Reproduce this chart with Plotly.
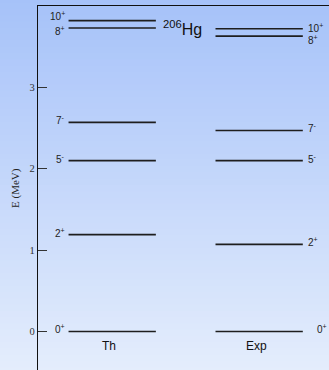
import plotly.graph_objects as go

# ---- data ----
th_spins = ["0<sup>+</sup>", "2<sup>+</sup>", "5<sup>-</sup>", "7<sup>-</sup>", "8<sup>+</sup>", "10<sup>+</sup>"]
th_energy = [0.0, 1.19, 2.10, 2.57, 3.73, 3.82]
exp_spins = ["0<sup>+</sup>", "2<sup>+</sup>", "5<sup>-</sup>", "7<sup>-</sup>", "8<sup>+</sup>", "10<sup>+</sup>"]
exp_energy = [0.0, 1.07, 2.10, 2.47, 3.63, 3.72]
y_ticks = [0, 1, 2, 3]
columns = ["Th", "Exp"]

# ---- layout helpers ----
W, H = 329, 370
ML, MT = 38, 6
centers = [2.55, 7.6]
hw = 1.5
line_color = "#1e1e1e"

fig = go.Figure()

def level_trace(center, energies):
    xs, ys = [], []
    for e in energies:
        xs += [center - hw, center + hw, None]
        ys += [e, e, None]
    return go.Scatter(x=xs, y=ys, mode="lines", line=dict(color=line_color, width=1.6),
                      hoverinfo="skip", showlegend=False)

fig.add_trace(level_trace(centers[0], th_energy))
fig.add_trace(level_trace(centers[1], exp_energy))

ann = []
lab_font = dict(family="Liberation Sans, Arial, sans-serif", size=10, color="#222")
# Th labels (left of lines)
th_shift = {"10<sup>+</sup>": 3, "8<sup>+</sup>": -5}
for s, e in zip(th_spins, th_energy):
    ann.append(dict(x=centers[0] - hw, y=e, xref="x", yref="y", text=s, showarrow=False,
                    xanchor="right", yanchor="middle", xshift=-2, yshift=2 + th_shift.get(s, 0),
                    font=lab_font))
exp_shift = {"10<sup>+</sup>": -1, "8<sup>+</sup>": -6}
exp_x = {"0<sup>+</sup>": 9}
for s, e in zip(exp_spins, exp_energy):
    ann.append(dict(x=centers[1] + hw, y=e, xref="x", yref="y", text=s, showarrow=False,
                    xanchor="left", yanchor="middle", xshift=3 + exp_x.get(s, 0),
                    yshift=2 + exp_shift.get(s, 0), font=lab_font))
# column names
for c, name in zip(centers, columns):
    ann.append(dict(x=c - 0.1, y=0, xref="x", yref="y", text=name, showarrow=False,
                    xanchor="center", yanchor="top", yshift=-6,
                    font=dict(family="Liberation Sans, Arial, sans-serif", size=12, color="#111")))
# nucleus label
ann.append(dict(x=(centers[0] + centers[1]) / 2 - 0.1, y=3.73, xref="x", yref="y",
                text="<sup>206</sup>Hg", showarrow=False, xanchor="center", yanchor="middle",
                font=dict(family="Liberation Sans, Arial, sans-serif", size=16, color="#111")))
# y-axis title
ann.append(dict(x=-23 / (W - ML), y=0.5, xref="paper", yref="paper", text="E (MeV)",
                showarrow=False, textangle=-90, xanchor="center", yanchor="middle",
                font=dict(family="Liberation Serif, Times New Roman, serif", size=11, color="#222")))

# gradient background
shapes = []
n = 60
top = (166, 194, 249)
bot = (228, 237, 252)
x0p = -ML / (W - ML) - 0.01
y_top = 1 + MT / (H - MT) + 0.01
for i in range(n):
    t = i / (n - 1)
    col = tuple(round(top[k] + (bot[k] - top[k]) * t) for k in range(3))
    ya = y_top - (y_top + 0.01) * i / n
    yb = y_top - (y_top + 0.01) * (i + 1) / n
    shapes.append(dict(type="rect", xref="paper", yref="paper", x0=x0p, x1=1.01,
                       y0=yb - 0.002, y1=ya, fillcolor="rgb(%d,%d,%d)" % col,
                       line=dict(width=0), layer="below"))

fig.update_layout(
    width=W, height=H,
    margin=dict(l=ML, r=0, t=MT, b=0),
    paper_bgcolor="rgb(200,215,250)", plot_bgcolor="rgba(0,0,0,0)",
    shapes=shapes, annotations=ann,
    xaxis=dict(range=[0, 10], side="top", showline=True, linecolor="#111", linewidth=1.2,
               showgrid=False, zeroline=False, showticklabels=False, ticks=""),
    yaxis=dict(range=[-0.474, 4.0], showline=True, linecolor="#111", linewidth=1.2,
               showgrid=False, zeroline=False, tickvals=y_ticks, ticktext=[str(v) for v in y_ticks],
               ticks="inside", ticklen=9, tickcolor="#333", tickwidth=1,
               tickfont=dict(family="Liberation Serif, Times New Roman, serif", size=10.5, color="#333")),
)

fig.write_html("out.html", config={"displayModeBar": False},
               post_script="document.body.style.margin='0';document.body.style.padding='0';"
                           "document.documentElement.style.overflow='hidden';")
